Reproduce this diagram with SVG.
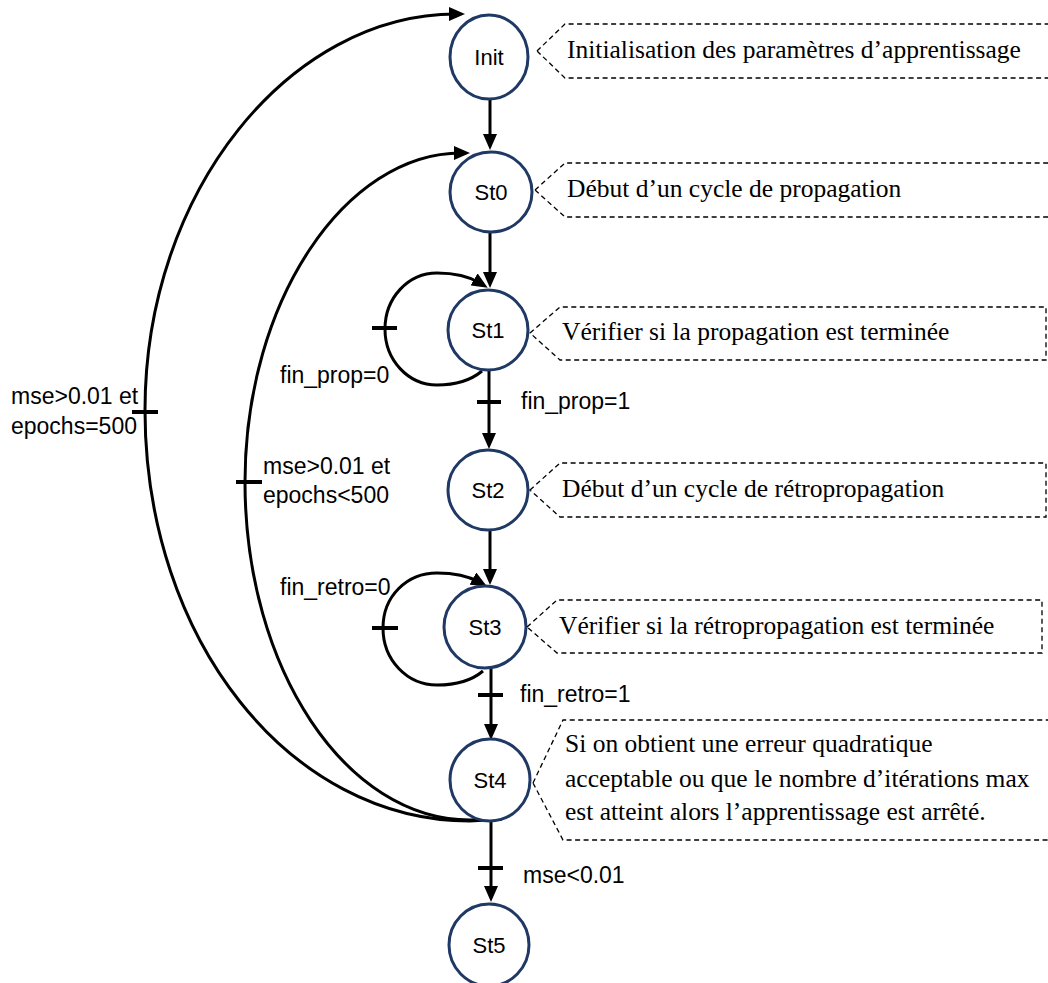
<svg xmlns="http://www.w3.org/2000/svg" width="1048" height="983" viewBox="0 0 1048 983">
<style>
.node{fill:#fff;stroke:#1f3864;stroke-width:3}
.nl{font-family:"Liberation Sans",Arial,sans-serif;font-size:22px;fill:#000;text-anchor:middle}
.lbl{font-family:"Liberation Sans",Arial,sans-serif;font-size:23px;fill:#000}
.ct{font-family:"Liberation Serif","Times New Roman",serif;font-size:25.5px;fill:#000}
.co{fill:none;stroke:#000;stroke-width:1.3;stroke-dasharray:5 3.5}
.e{fill:none;stroke:#000;stroke-width:3}
.tk{stroke:#000;stroke-width:4}
</style>
<defs>
<marker id="ah" markerUnits="userSpaceOnUse" markerWidth="16" markerHeight="14" refX="7" refY="7" orient="auto">
<path d="M0,0 L16,7 L0,14 z" fill="#000"/>
</marker>
</defs>
<rect width="1048" height="983" fill="#fff"/>
<g id="connectors">
<path class="e" d="M490 100 V141" marker-end="url(#ah)"/>
<path class="e" d="M490 232 V279" marker-end="url(#ah)"/>
<path class="e" d="M489 370 V440" marker-end="url(#ah)"/>
<line class="tk" x1="477" y1="402" x2="501" y2="402"/>
<path class="e" d="M490 530 V576" marker-end="url(#ah)"/>
<path class="e" d="M491 668 V731" marker-end="url(#ah)"/>
<line class="tk" x1="478" y1="695" x2="503" y2="695"/>
<path class="e" d="M491 820 V893" marker-end="url(#ah)"/>
<line class="tk" x1="478" y1="868" x2="503" y2="868"/>
<path class="e" d="M482 371 C470 381,455 385,437 385 C408 385,385 360,385 329 C385 298,408 273,437 273 C458 273,470 277,480 283" marker-end="url(#ah)"/>
<line class="tk" x1="372" y1="328" x2="397" y2="328"/>
<path class="e" d="M483 671 C470 682,455 685,437 685 C407 685,383 660,383 628 C383 596,407 573,437 573 C456 573,470 577,479 582" marker-end="url(#ah)"/>
<line class="tk" x1="372" y1="628" x2="398" y2="628"/>
<path class="e" d="M502 819 L470 821 C290 821,145 640,145 410 C145 191,290 14,456 14" marker-end="url(#ah)"/>
<line class="tk" x1="132" y1="412" x2="158" y2="412"/>
<path class="e" d="M502 819 L470 820 C346 820,245 669,245 482 C245 300,346 153,461 153" marker-end="url(#ah)"/>
<line class="tk" x1="236" y1="482" x2="262" y2="482"/>
<text class="lbl" x="280" y="383">fin_prop=0</text>
<text class="lbl" x="521" y="409">fin_prop=1</text>
<text class="lbl" x="280" y="595">fin_retro=0</text>
<text class="lbl" x="520" y="702">fin_retro=1</text>
<text class="lbl" x="523" y="883">mse&lt;0.01</text>
<text class="lbl" x="11" y="404">mse&gt;0.01 et</text>
<text class="lbl" x="11" y="434">epochs=500</text>
<text class="lbl" x="263" y="474">mse&gt;0.01 et</text>
<text class="lbl" x="263" y="503">epochs&lt;500</text>
</g>
<g id="Init">
<ellipse class="node" cx="489" cy="57" rx="39" ry="42"/>
<text class="nl" x="489" y="65">Init</text>
</g>
<g id="St0">
<ellipse class="node" cx="491" cy="192" rx="41" ry="40"/>
<text class="nl" x="491" y="200">St0</text>
</g>
<g id="St1">
<ellipse class="node" cx="488" cy="330" rx="40" ry="40"/>
<text class="nl" x="488" y="338">St1</text>
</g>
<g id="St2">
<ellipse class="node" cx="488" cy="490" rx="40" ry="40"/>
<text class="nl" x="488" y="498">St2</text>
</g>
<g id="St3">
<ellipse class="node" cx="485" cy="627" rx="41" ry="41"/>
<text class="nl" x="485" y="635">St3</text>
</g>
<g id="St4">
<ellipse class="node" cx="490" cy="780" rx="40" ry="41"/>
<text class="nl" x="490" y="788">St4</text>
</g>
<g id="St5">
<ellipse class="node" cx="489" cy="945" rx="40" ry="41"/>
<text class="nl" x="489" y="953">St5</text>
</g>
<g id="callout-init">
<path class="co" d="M537 51 L565 24 H1060 M537 51 L565 78 H1060"/>
<text class="ct" x="567" y="58">Initialisation des paramètres d’apprentissage</text>
</g>
<g id="callout-st0">
<path class="co" d="M535 190 L565 163 H1060 M535 190 L565 217 H1060"/>
<text class="ct" x="567" y="197">Début d’un cycle de propagation</text>
</g>
<g id="callout-st1">
<path class="co" d="M530 333 L560 307 H1046 V360 H560 Z"/>
<text class="ct" x="562" y="340">Vérifier si la propagation est terminée</text>
</g>
<g id="callout-st2">
<path class="co" d="M530 490 L560 463 H1046 V517 H560 Z"/>
<text class="ct" x="562" y="497">Début d’un cycle de rétropropagation</text>
</g>
<g id="callout-st3">
<path class="co" d="M527 627 L557 600 H1042 V653 H557 Z"/>
<text class="ct" x="559" y="634">Vérifier si la rétropropagation est terminée</text>
</g>
<g id="callout-st4">
<path class="co" d="M533 783 L563 720 H1060 M533 783 L563 840 H1060"/>
<text class="ct" x="565" y="752">Si on obtient une erreur quadratique</text>
<text class="ct" x="565" y="787">acceptable ou que le nombre d’itérations max</text>
<text class="ct" x="565" y="820">est atteint alors l’apprentissage est arrêté.</text>
</g>
</svg>
